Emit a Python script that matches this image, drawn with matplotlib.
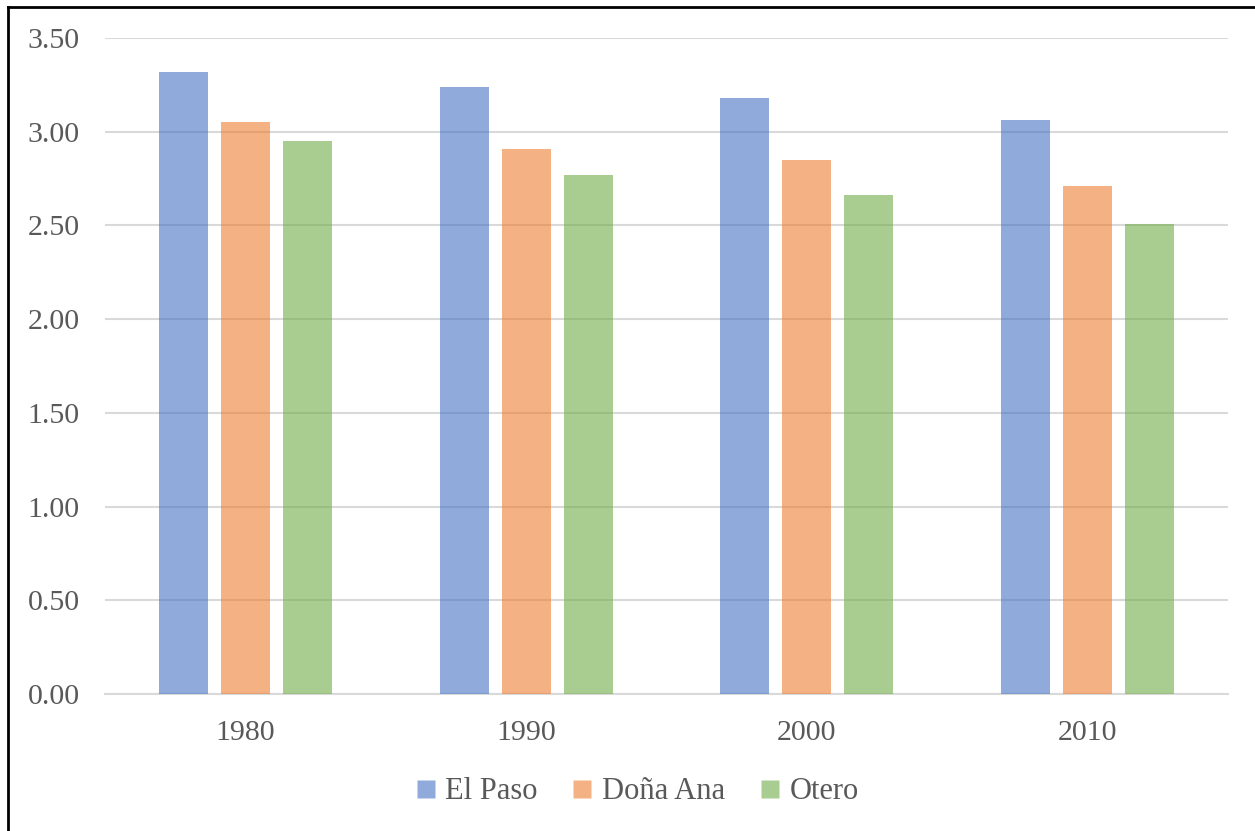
import matplotlib
matplotlib.use("Agg")
import matplotlib.pyplot as plt
import numpy as np
from matplotlib.lines import Line2D

### Données ###
annees = ["1980", "1990", "2000", "2010"]
el_paso = [3.32, 3.24, 3.18, 3.06]
dona_ana = [3.05, 2.91, 2.85, 2.71]
otero = [2.95, 2.77, 2.66, 2.51]
series = ["El Paso", "Doña Ana", "Otero"]

couleurs = ["#4472C4", "#ED7D31", "#70AD47"]
gris = "#595959"

plt.rcParams["font.family"] = ["Liberation Serif", "DejaVu Serif"]

fig = plt.figure(figsize=(12.55, 8.31), dpi=100)
ax = fig.add_axes([105 / 1255, 1 - 694 / 831, (1228 - 105) / 1255, (694 - 38) / 831])

x = np.arange(len(annees))
largeur = 0.175
ecart = 0.221
for i, (valeurs, nom) in enumerate(zip([el_paso, dona_ana, otero], series)):
    ax.bar(x + (i - 1) * ecart, valeurs, largeur, color=couleurs[i], alpha=0.6,
           label=nom, zorder=3)

ax.set_ylim(0, 3.5)
ax.set_xlim(-0.5, len(annees) - 0.5)
ax.set_yticks(np.arange(0, 3.51, 0.5))
ax.set_yticklabels([f"{v:.2f}" for v in np.arange(0, 3.51, 0.5)])
ax.set_xticks(x)
ax.set_xticklabels(annees)
ax.yaxis.grid(True, color="#d9d9d9", linewidth=1.5, zorder=4)
ax.set_axisbelow(False)
for s in ["top", "right", "left"]:
    ax.spines[s].set_visible(False)
ax.spines["bottom"].set_color("#d9d9d9")
ax.spines["bottom"].set_linewidth(1.5)
ax.tick_params(axis="both", length=0, labelsize=21.5, colors=gris)
ax.tick_params(axis="x", pad=19)
ax.tick_params(axis="y", pad=18)

### Légende ###
poignees = [Line2D([], [], marker="s", linestyle="none", markersize=13,
                   markerfacecolor=c, markeredgecolor="none", alpha=0.6) for c in couleurs]
fig.legend(poignees, series, loc="center", bbox_to_anchor=(0.508, 0.047), ncol=3,
           frameon=False, fontsize=22, labelcolor=gris, handlelength=0.6,
           handletextpad=0.35, columnspacing=1.15)

### Bordure ###
fig.add_artist(Line2D([8 / 1255, 8 / 1255], [0, 1 - 7 / 831], color="black", linewidth=2,
                      transform=fig.transFigure))
fig.add_artist(Line2D([8 / 1255, 1], [1 - 7 / 831, 1 - 7 / 831], color="black", linewidth=2,
                      transform=fig.transFigure))

fig.savefig("out.png", dpi=100)
